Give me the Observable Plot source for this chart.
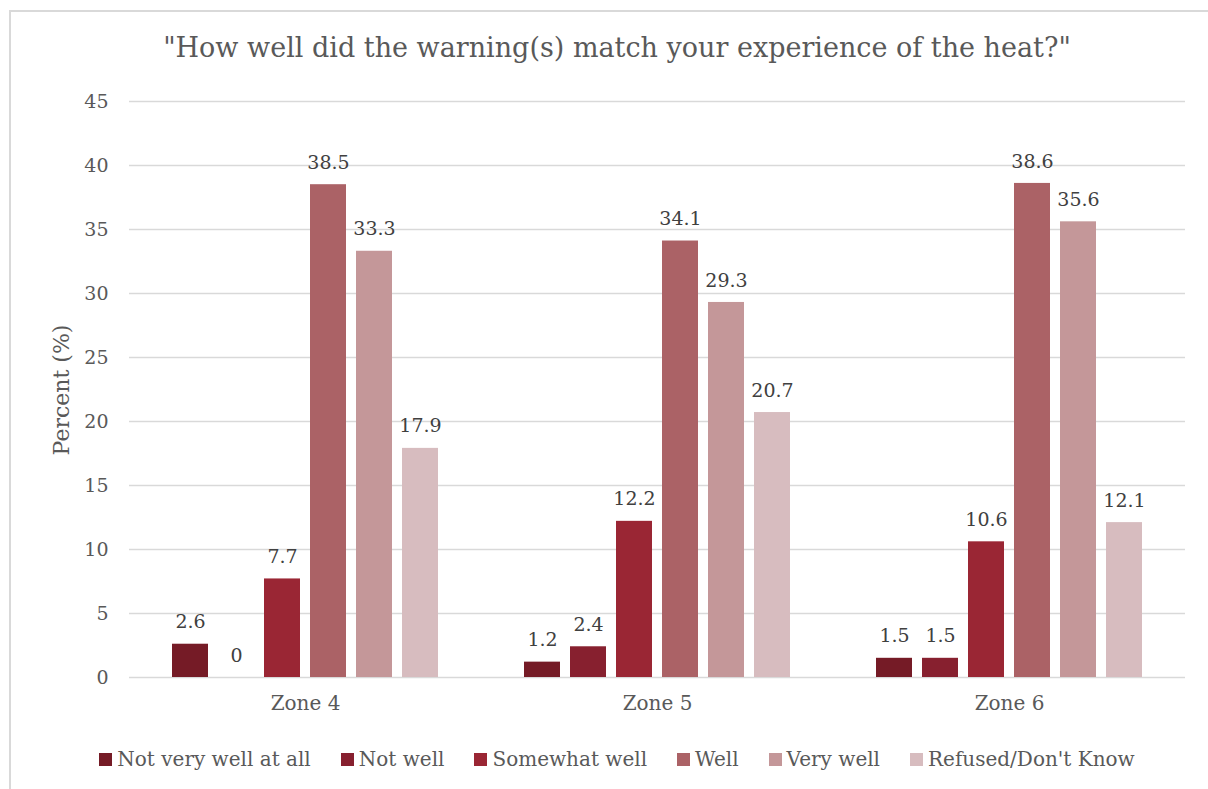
<!DOCTYPE html>
<html>
<head>
<meta charset="utf-8">
<script src="https://cdn.jsdelivr.net/npm/d3@7"></script>
<script src="https://cdn.jsdelivr.net/npm/@observablehq/plot@0.6"></script>
<style>
  html, body { margin: 0; padding: 0; background: #fff; }
  body { width: 1208px; height: 789px; position: relative; overflow: hidden; font-family: "DejaVu Serif", serif; }
  #frame { position: absolute; left: 9px; top: 10px; width: 1210px; height: 800px; border-top: 2px solid #d9d9d9; border-left: 2px solid #d9d9d9; box-sizing: border-box; }
  #title { position: absolute; top: 29px; left: 0; width: 1234px; text-align: center; font-size: 27px; color: #595959; line-height: 38px; white-space: nowrap; }
  #chart { position: absolute; top: 80px; left: 0; }
  #ylabel { position: absolute; left: 62px; top: 390px; transform: translate(-50%, -50%) rotate(-90deg); font-size: 22px; color: #595959; white-space: nowrap; line-height: 26px; }
  #legend { position: absolute; top: 746px; left: 0; width: 1234px; display: flex; justify-content: center; font-size: 20px; color: #595959; line-height: 26px; white-space: nowrap; }
  .item { display: flex; align-items: center; margin: 0 15px; }
  .sw { width: 13px; height: 13px; margin-right: 5px; }
</style>
</head>
<body>
<div id="frame"></div>
<div id="title">"How well did the warning(s) match your experience of the heat?"</div>
<div id="chart"></div>
<div id="ylabel">Percent (%)</div>
<div id="legend"></div>
<script>
const zones = ["Zone 4", "Zone 5", "Zone 6"];
const categories = ["Not very well at all", "Not well", "Somewhat well", "Well", "Very well", "Refused/Don't Know"];
const zone4 = [2.6, 0, 7.7, 38.5, 33.3, 17.9];
const zone5 = [1.2, 2.4, 12.2, 34.1, 29.3, 20.7];
const zone6 = [1.5, 1.5, 10.6, 38.6, 35.6, 12.1];
const colors = ["#751b26", "#87202f", "#9a2634", "#ab6266", "#c49799", "#d7bcbf"];
const yTicks = [0, 5, 10, 15, 20, 25, 30, 35, 40, 45];

const series = [zone4, zone5, zone6];
const data = [];
zones.forEach((z, i) => categories.forEach((c, j) => data.push({zone: z, cat: c, value: series[i][j]})));

const chart = Plot.plot({
  width: 1208,
  height: 660,
  marginTop: 21,
  marginBottom: 63,
  marginLeft: 129,
  marginRight: 23,
  style: {fontFamily: "DejaVu Serif, serif", color: "#595959", background: "transparent"},
  fx: {domain: zones, padding: 0},
  x: {domain: categories, axis: null, paddingInner: 0.21, paddingOuter: 0.85},
  y: {domain: [0, 45]},
  color: {domain: categories, range: colors},
  marks: [
    Plot.gridY(yTicks, {stroke: "#d9d9d9", strokeOpacity: 1, strokeWidth: 1.5}),
    Plot.axisY(yTicks, {tickSize: 0, tickPadding: 21, fontSize: 19, label: null}),
    Plot.barY(data, {fx: "zone", x: "cat", y: "value", fill: "cat"}),
    Plot.text(data, {fx: "zone", x: "cat", y: "value", text: d => String(d.value), dy: -22, fontSize: 19, fill: "#404040"}),
    Plot.axisFx({tickSize: 0, tickPadding: 18, fontSize: 20, label: null, anchor: "bottom"})
  ]
});
document.getElementById("chart").appendChild(chart);

const legend = document.getElementById("legend");
categories.forEach((c, i) => {
  const item = document.createElement("div");
  item.className = "item";
  const sw = document.createElement("div");
  sw.className = "sw";
  sw.style.background = colors[i];
  const t = document.createElement("span");
  t.textContent = c;
  item.appendChild(sw);
  item.appendChild(t);
  legend.appendChild(item);
});
</script>
</body>
</html>
